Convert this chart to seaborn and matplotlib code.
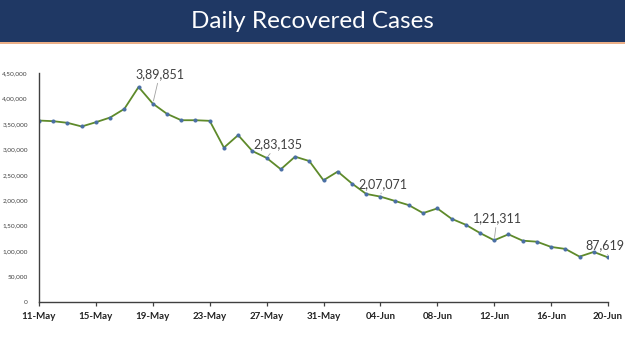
import matplotlib
matplotlib.use("Agg")
import matplotlib.pyplot as plt
from matplotlib.patches import Rectangle
from matplotlib.lines import Line2D
import seaborn as sns
import pandas as pd

# ---- data ----
dates = pd.date_range("2021-05-11", "2021-06-20", freq="D")
recovered = [356600, 355300, 352100, 344900, 353300, 362500, 379500, 422500,
             389851, 369700, 357200, 357200, 356000, 303300, 327900, 296600,
             283135, 260800, 285600, 277000, 239200, 256300, 232800, 212400,
             207071, 198800, 190300, 174700, 183900, 163600, 151800, 135600,
             121311, 133000, 120500, 118500, 108200, 104300, 89200, 98400,
             87619]
tick_labels = ["11-May", "15-May", "19-May", "23-May", "27-May", "31-May",
               "04-Jun", "08-Jun", "12-Jun", "16-Jun", "20-Jun"]
label_dates = ["2021-05-19", "2021-05-27", "2021-06-04", "2021-06-12", "2021-06-20"]
label_texts = ["3,89,851", "2,83,135", "2,07,071", "1,21,311", "87,619"]
label_offsets = [(5, 17), (8, 5.5), (2, 5), (2, 11.5), (-2, 4.5)]  # points
yticks = list(range(0, 450001, 50000))
ytick_labels = ["0", "50,000", "1,00,000", "1,50,000", "2,00,000", "2,50,000",
                "3,00,000", "3,50,000", "4,00,000", "4,50,000"]

df = pd.DataFrame({"date": dates, "recovered": recovered})

sns.set_theme(style="white")
plt.rcParams["font.family"] = ["Lato", "DejaVu Sans"]

fig = plt.figure(figsize=(6.25, 3.51), dpi=100)
fig.patch.set_facecolor("white")

# title banner
fig.patches.append(Rectangle((0, 1 - 42 / 351), 1, 42 / 351, transform=fig.transFigure,
                             facecolor="#1F3864", edgecolor="none", zorder=0))
fig.lines.append(Line2D([0, 1], [1 - 43 / 351, 1 - 43 / 351], transform=fig.transFigure,
                        color="#E8A070", linewidth=1.2))
fig.text(0.5, 1 - 21 / 351, "Daily Recovered Cases", color="white", fontsize=17.5,
         ha="center", va="center")

ax = fig.add_axes([39 / 625, 49 / 351, (608 - 39) / 625, (278 - 49) / 351])
sns.lineplot(data=df, x="date", y="recovered", ax=ax, color="#5E8A2A", linewidth=1.3,
             marker="o", markersize=2.2, markerfacecolor="#4A6FA5",
             markeredgecolor="#4A6FA5")

ax.set_xlim(dates[0], dates[-1])
ax.set_ylim(0, 450000)
tick_pos = [dates[i] for i in range(0, len(dates), 4)]
ax.set_xticks(tick_pos)
ax.set_xticklabels(tick_labels, fontsize=7, color="#222222", fontweight="bold")
ax.set_yticks(yticks)
ax.set_yticklabels(ytick_labels, fontsize=4.6, color="#404040")
ax.set_xlabel("")
ax.set_ylabel("")

for s in ["top", "right"]:
    ax.spines[s].set_visible(False)
for s in ["left", "bottom"]:
    ax.spines[s].set_color("#404040")
    ax.spines[s].set_linewidth(1.0)
ax.tick_params(axis="x", which="major", direction="out", length=3, width=0.9,
               color="#404040", bottom=True, pad=4)
ax.tick_params(axis="y", which="major", left=False, pad=2)

for d, t, off in zip(label_dates, label_texts, label_offsets):
    d = pd.Timestamp(d)
    v = df.loc[df["date"] == d, "recovered"].iloc[0]
    ax.annotate(t, xy=(d, v), xytext=off, textcoords="offset points",
                ha="center", va="bottom", fontsize=9, color="#404040",
                annotation_clip=False,
                arrowprops=dict(arrowstyle="-", color="#A0A0A0", linewidth=0.6,
                                shrinkA=0, shrinkB=2))

fig.savefig("out.png", dpi=100, facecolor="white")
